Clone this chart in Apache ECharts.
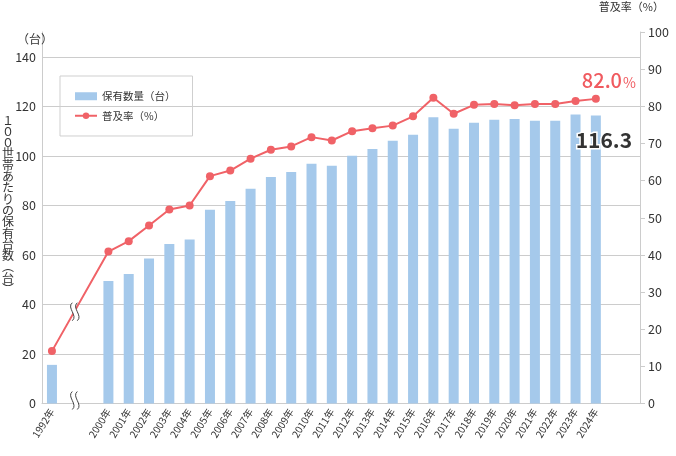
<!DOCTYPE html>
<html>
<head>
<meta charset="utf-8">
<script src="https://cdn.jsdelivr.net/npm/echarts@6/dist/echarts.min.js"></script>
<style>
html,body{margin:0;padding:0;background:#fff;}
#chart{width:676px;height:456px;}
</style>
</head>
<body>
<div id="chart"></div>
<script>
const years = ['1992年','2000年','2001年','2002年','2003年','2004年','2005年','2006年','2007年','2008年','2009年','2010年','2011年','2012年','2013年','2014年','2015年','2016年','2017年','2018年','2019年','2020年','2021年','2022年','2023年','2024年'];
const ownership = [15.6, 49.5, 52.3, 58.5, 64.4, 66.2, 78.2, 81.8, 86.7, 91.5, 93.5, 96.8, 96.0, 100.0, 102.8, 106.1, 108.5, 115.6, 110.9, 113.4, 114.6, 114.9, 114.2, 114.2, 116.7, 116.3];
const penetration = [14.1, 40.9, 43.7, 47.9, 52.2, 53.3, 61.2, 62.7, 65.9, 68.3, 69.2, 71.7, 70.8, 73.3, 74.1, 74.8, 77.3, 82.3, 78.0, 80.4, 80.6, 80.3, 80.6, 80.6, 81.4, 82.0];
const leftTicks = [0, 20, 40, 60, 80, 100, 120, 140];
const rightTicks = [0, 10, 20, 30, 40, 50, 60, 70, 80, 90, 100];
const seriesNames = ['保有数量（台）', '普及率（%）'];
const leftUnit = '（台）';
const rightTitle = '普及率（%）';
const verticalTitle = '１００世帯あたりの保有台数︵台︶';

const GAP_POS = -2.78;   // layout: where the pre-break year sits on the x scale
const BREAK_POS = -1.68; // layout: where the break marks are drawn
const xPos = years.map((y, i) => i === 0 ? GAP_POS : i - 1);
const last = years.length - 1;

const FONT = '"Noto Sans CJK JP", "Noto Sans", sans-serif';
const BAR = '#a5c9eb';
const LINE = '#f06267';
const TXT = '#333';
const GRID = '#cccccc';

const chart = echarts.init(document.getElementById('chart'), null, {renderer: 'canvas'});

function labelFor(v) {
  for (let i = 0; i < xPos.length; i++) if (Math.abs(xPos[i] - v) < 0.01) return years[i];
  return '';
}

const barData = ownership.map((v, i) => {
  const d = {value: [xPos[i], v]};
  if (i === last) {
    d.label = {
      show: true, position: 'insideTop', distance: 0, offset: [8, 14],
      formatter: v.toFixed(1), color: TXT, fontSize: 21, fontWeight: 'bold',
      fontFamily: FONT, textBorderColor: '#fff', textBorderWidth: 3
    };
  }
  return d;
});
const lineData = penetration.map((v, i) => {
  const d = {value: [xPos[i], v]};
  if (i === last) {
    d.label = {
      show: true, position: 'top', distance: 4, offset: [13, 0],
      formatter: '{a|' + v.toFixed(1) + '}{b|%}',
      rich: {
        a: {color: '#f05a5f', fontSize: 20, fontFamily: FONT, fontWeight: 500},
        b: {color: '#f05a5f', fontSize: 14, fontFamily: FONT, padding: [4, 0, 0, 1]}
      }
    };
  }
  return d;
});

const option = {
  animation: false,
  backgroundColor: '#fff',
  textStyle: {fontFamily: FONT},
  grid: {left: 42, right: 36, top: 32, bottom: 52.5, containLabel: false},
  legend: {
    orient: 'vertical', left: 60, top: 76,
    padding: [15, 17, 15, 14],
    borderColor: '#cfcfcf', borderWidth: 1,
    itemWidth: 22, itemHeight: 8, itemGap: 9,
    textStyle: {fontSize: 10.5, color: TXT, fontFamily: FONT},
    data: [
      {name: seriesNames[0], icon: 'rect'},
      {name: seriesNames[1]}
    ]
  },
  xAxis: {
    type: 'value', min: GAP_POS - 0.49, max: GAP_POS - 0.49 + 598 / 20.31,
    splitLine: {show: false},
    axisTick: {show: false},
    axisLine: {show: true, onZero: false, lineStyle: {color: GRID, width: 1}},
    axisLabel: {
      customValues: xPos, rotate: 58, margin: 6, fontSize: 10, color: TXT,
      fontFamily: FONT, formatter: labelFor, hideOverlap: false
    }
  },
  yAxis: [
    {
      type: 'value', min: 0, max: 150, interval: 20,
      axisLine: {show: true, onZero: false, lineStyle: {color: GRID}},
      axisTick: {show: false},
      splitLine: {show: true, showMaxLine: false, lineStyle: {color: GRID, width: 1}},
      axisLabel: {
        customValues: leftTicks, color: TXT, fontSize: 12.5, margin: 6, fontFamily: FONT
      }
    },
    {
      type: 'value', min: 0, max: 100, interval: 10, position: 'right',
      axisLine: {show: true, onZero: false, lineStyle: {color: GRID}},
      axisTick: {show: true, length: 5, lineStyle: {color: GRID}},
      splitLine: {show: false},
      axisLabel: {
        customValues: rightTicks, color: TXT, fontSize: 12.5, margin: 8, fontFamily: FONT
      }
    }
  ],
  series: [
    {
      name: seriesNames[0], type: 'bar', yAxisIndex: 0, barWidth: 10,
      itemStyle: {color: BAR}, data: barData, z: 2
    },
    {
      name: seriesNames[1], type: 'line', yAxisIndex: 1,
      symbol: 'circle', symbolSize: 8,
      lineStyle: {color: LINE, width: 2}, itemStyle: {color: LINE},
      data: lineData, z: 3
    }
  ]
};
chart.setOption(option);

// break marks (decoration)
function bez(p0, p1, p2, p3, t) {
  const u = 1 - t;
  return [
    u*u*u*p0[0] + 3*u*u*t*p1[0] + 3*u*t*t*p2[0] + t*t*t*p3[0],
    u*u*u*p0[1] + 3*u*u*t*p1[1] + 3*u*t*t*p2[1] + t*t*t*p3[1]
  ];
}
function breakMark(cx, cy) {
  const c1 = [[cx - 2, cy - 9], [cx - 8, cy - 4], [cx + 4, cy + 4], [cx - 2, cy + 9]];
  const c2 = c1.map(p => [p[0] + 5, p[1]]);
  const pts = [];
  for (let k = 0; k <= 16; k++) pts.push(bez(c1[0], c1[1], c1[2], c1[3], k / 16));
  for (let k = 16; k >= 0; k--) pts.push(bez(c2[0], c2[1], c2[2], c2[3], k / 16));
  const curve = (c) => ({
    type: 'bezierCurve', z: 101,
    shape: {x1: c[0][0], y1: c[0][1], cpx1: c[1][0], cpy1: c[1][1], cpx2: c[2][0], cpy2: c[2][1], x2: c[3][0], y2: c[3][1]},
    style: {fill: null, stroke: '#444', lineWidth: 1}
  });
  return [
    {type: 'polygon', z: 100, shape: {points: pts}, style: {fill: '#fff', stroke: null}},
    curve(c1), curve(c2)
  ];
}
const a = chart.convertToPixel({xAxisIndex: 0, yAxisIndex: 1}, [xPos[0], penetration[0]]);
const b = chart.convertToPixel({xAxisIndex: 0, yAxisIndex: 1}, [xPos[1], penetration[1]]);
const bx = chart.convertToPixel({xAxisIndex: 0}, BREAK_POS);
const by = a[1] + (b[1] - a[1]) * (bx - a[0]) / (b[0] - a[0]);
const baseY = chart.convertToPixel({yAxisIndex: 0}, 0);

const graphics = [
  ...breakMark(bx, by),
  ...breakMark(bx, baseY - 3),
  {type: 'text', z: 50, left: 17, top: 33, style: {text: leftUnit, fill: TXT, font: '12px ' + FONT}},
  {type: 'text', z: 50, right: 12, top: 1, style: {text: rightTitle, fill: TXT, font: '11px ' + FONT}},
  {type: 'text', z: 50, left: 2, top: 114, style: {
    text: verticalTitle.split('').join('\n'), fill: TXT, font: '12px ' + FONT,
    lineHeight: 11.3, align: 'center', width: 14
  }}
];
chart.setOption({graphic: graphics});
</script>
</body>
</html>
